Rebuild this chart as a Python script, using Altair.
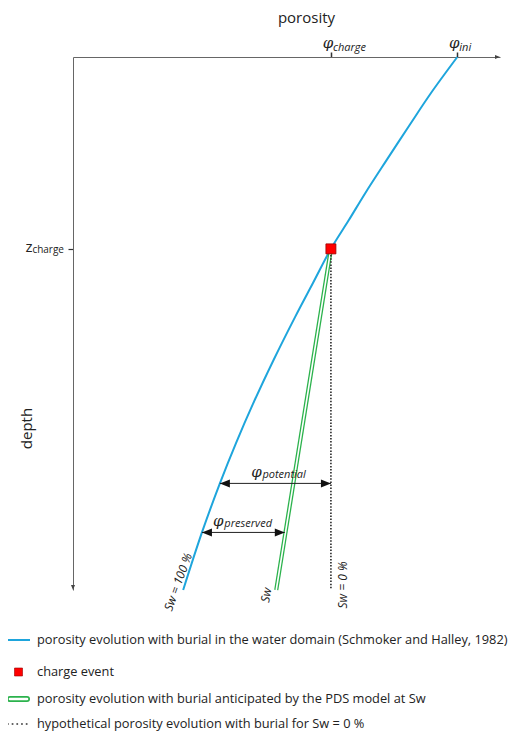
import altair as alt
import pandas as pd

# ---------------- data ----------------
# porosity evolution in the water domain (Schmoker & Halley, 1982)
depth_water = [0.0, 0.34, 0.64, 0.97, 1.28, 1.53, 1.80, 2.12, 2.44, 2.84, 3.25, 3.62, 4.00, 4.46, 5.00]
poro_water = [0.450, 0.419, 0.394, 0.367, 0.342, 0.323, 0.302, 0.281, 0.260, 0.235, 0.211, 0.191, 0.172, 0.151, 0.129]

phi_ini = 0.45
phi_charge = 0.302
z_charge = 1.80
phi_axis_end = 0.50
z_axis_end = 5.00

# PDS model at Sw
depth_pds = [1.80, 5.00]
poro_pds = [0.302, 0.238]

# hypothetical Sw = 0 %
depth_dry = [1.80, 5.00]
poro_dry = [0.302, 0.302]

# double arrows
arrow_names = ["potential", "preserved"]
arrow_depth = [4.00, 4.46]
arrow_left = [0.172, 0.151]
arrow_right = [0.302, 0.248]

top_tick_values = [phi_charge, phi_ini]
top_tick_subs = ["charge", "ini"]

end_labels = ["Sw = 100 %", "Sw", "Sw = 0 %"]
end_label_phi = [0.129, 0.238, 0.302]
end_label_z = [5.00, 5.00, 5.00]

legend_labels = [
    "porosity evolution with burial in the water domain (Schmoker and Halley, 1982)",
    "charge event",
    "porosity evolution with burial anticipated by the PDS model at Sw",
    "hypothetical porosity evolution with burial for Sw = 0 %",
]

# ---------------- styling ----------------
FONT = "Open Sans"
GREEK = "DejaVu Serif"
TXT = "#222222"
BLUE = "#1ea5dc"
GREEN = "#2bb24c"
RED = "#ff0000"

xs = alt.Scale(domain=[0, phi_axis_end], nice=False, zero=False)
ys = alt.Scale(domain=[0, z_axis_end], reverse=True, nice=False, zero=False)

x_axis = alt.Axis(
    orient="top", values=top_tick_values, labels=False, ticks=True, tickSize=5,
    tickColor="#333333", tickWidth=1.5, domainColor="#666666", domainWidth=1,
    grid=False, titleX=233, titleY=-40, titleAlign="center", titleBaseline="middle",
    titleFont=FONT, titleFontSize=15, titleFontWeight="normal", titleColor=TXT,
)
y_axis = alt.Axis(
    orient="left", values=[z_charge], labels=False, ticks=True, tickSize=5,
    tickColor="#333333", tickWidth=1.2, domainColor="#666666", domainWidth=1,
    grid=False, titleX=-47, titleY=371, titleAngle=270, titleAlign="center",
    titleBaseline="middle", titleFont=FONT, titleFontSize=15,
    titleFontWeight="normal", titleColor=TXT,
)


def X(f="phi"):
    return alt.X(f"{f}:Q", scale=xs, axis=x_axis, title="porosity")


def Y(f="z"):
    return alt.Y(f"{f}:Q", scale=ys, axis=y_axis, title="depth")


water = pd.DataFrame({"phi": poro_water, "z": depth_water})
pds = pd.DataFrame({"phi": poro_pds, "z": depth_pds})
dry = pd.DataFrame({"phi": poro_dry, "z": depth_dry})
charge = pd.DataFrame({"phi": [phi_charge], "z": [z_charge]})
arrows = pd.DataFrame({"name": arrow_names, "z": arrow_depth,
                       "phi": arrow_left, "phi2": arrow_right})
arrows["mid"] = (arrows["phi"] + arrows["phi2"]) / 2
ticks_top = pd.DataFrame({"phi": top_tick_values, "sub": top_tick_subs})
ends = pd.DataFrame({"label": end_labels, "phi": end_label_phi, "z": end_label_z})
axis_ends = pd.DataFrame({"phi": [phi_axis_end, 0.0], "z": [0.0, z_axis_end],
                          "dir": ["right", "down"]})

layers = []

# blue water-domain curve
layers.append(alt.Chart(water).mark_line(color=BLUE, strokeWidth=2, interpolate="catmull-rom")
              .encode(x=X(), y=Y(), order="z:Q"))

# green double line (PDS model)
layers.append(alt.Chart(pds).mark_line(color=GREEN, strokeWidth=4.2)
              .encode(x=X(), y=Y()))
layers.append(alt.Chart(pds).mark_line(color="white", strokeWidth=1.6)
              .encode(x=X(), y=Y()))

# dotted line Sw = 0 %
layers.append(alt.Chart(dry).mark_line(color="#333333", strokeWidth=1.7, strokeDash=[1.5, 1.6])
              .encode(x=X(), y=Y()))

# double arrows
layers.append(alt.Chart(arrows).mark_rule(color="#222222", strokeWidth=1)
              .encode(x=X(), x2="phi2:Q", y=Y()))
layers.append(alt.Chart(arrows).mark_point(shape="M0,0L2,-0.8L2,0.8Z", size=100, filled=True,
                                           color="#111111", opacity=1)
              .encode(x=X(), y=Y()))
layers.append(alt.Chart(arrows).mark_point(shape="M0,0L-2,-0.8L-2,0.8Z", size=100, filled=True,
                                           color="#111111", opacity=1)
              .encode(x=X("phi2"), y=Y()))

# arrow labels: phi + subscript
for name, dphi, dsub in [("potential", -19, -13), ("preserved", -25, -19)]:
    sub = arrows[arrows["name"] == name]
    layers.append(alt.Chart(sub).mark_text(text="φ", font=GREEK, fontStyle="italic", fontSize=15,
                                           align="center", baseline="alphabetic", dx=dphi, dy=-6,
                                           color=TXT)
                  .encode(x=X("mid"), y=Y()))
    layers.append(alt.Chart(sub).mark_text(font=FONT, fontStyle="italic", fontSize=11,
                                           align="left", baseline="alphabetic", dx=dsub, dy=-5,
                                           color=TXT)
                  .encode(x=X("mid"), y=Y(), text="name:N"))

# axis arrowheads
layers.append(alt.Chart(axis_ends[axis_ends["dir"] == "right"])
              .mark_point(shape="M0,0L-2,-0.8L-2,0.8Z", size=25, filled=True, color="#444444", opacity=1)
              .encode(x=X(), y=Y()))
layers.append(alt.Chart(axis_ends[axis_ends["dir"] == "down"])
              .mark_point(shape="M0,0L-0.8,-2L0.8,-2Z", size=25, filled=True, color="#444444", opacity=1)
              .encode(x=X(), y=Y()))

# top tick labels (phi_charge, phi_ini)
layers.append(alt.Chart(ticks_top).mark_text(text="φ", font=GREEK, fontStyle="italic", fontSize=15,
                                             align="center", baseline="alphabetic", dx=-3, color=TXT)
              .encode(x=X(), y=alt.value(-9)))
layers.append(alt.Chart(ticks_top).mark_text(font=FONT, fontStyle="italic", fontSize=11,
                                             align="left", baseline="alphabetic", dx=2, color=TXT)
              .encode(x=X(), y=alt.value(-6), text="sub:N"))

# z_charge label
layers.append(alt.Chart(charge).mark_text(text="z", font=FONT, fontSize=15, align="right",
                                          baseline="alphabetic", dy=3, color=TXT)
              .encode(x=alt.value(-40.5), y=Y()))
layers.append(alt.Chart(charge).mark_text(text="charge", font=FONT, fontSize=10, align="right",
                                          baseline="alphabetic", dy=4, color=TXT)
              .encode(x=alt.value(-9), y=Y()))

# end labels
for lab, ang, xo, yo in [("Sw = 100 %", 290, -5, -8), ("Sw", 280, -10, 5), ("Sw = 0 %", 270, 12, -5)]:
    layers.append(alt.Chart(ends[ends["label"] == lab])
                  .mark_text(font=FONT, fontStyle="italic", fontSize=12, angle=ang, align="center",
                             baseline="middle", xOffset=xo, yOffset=yo, color=TXT)
                  .encode(x=X(), y=Y(), text="label:N"))

# charge event
layers.append(alt.Chart(charge).mark_point(shape="square", size=100, filled=True, fill=RED,
                                           stroke="#990000", strokeWidth=0.8, opacity=1)
              .encode(x=X(), y=Y()))

# ---------------- legend ----------------
row_y = [583, 615, 642, 667]
sym_x0, sym_x1, txt_x = -66, -43, -36
one = pd.DataFrame({"k": [0]})

layers.append(alt.Chart(one).mark_rule(color=BLUE, strokeWidth=2)
              .encode(x=alt.value(sym_x0), x2=alt.value(sym_x1), y=alt.value(row_y[0])))
layers.append(alt.Chart(one).mark_point(shape="square", size=64, filled=True, fill=RED,
                                        stroke="#990000", strokeWidth=0.6, opacity=1)
              .encode(x=alt.value((sym_x0 + sym_x1) / 2), y=alt.value(row_y[1])))
layers.append(alt.Chart(one).mark_rule(color=GREEN, strokeWidth=6, strokeCap="round")
              .encode(x=alt.value(sym_x0 + 3), x2=alt.value(sym_x1 - 3), y=alt.value(row_y[2])))
layers.append(alt.Chart(one).mark_rule(color="white", strokeWidth=2.6, strokeCap="round")
              .encode(x=alt.value(sym_x0 + 3), x2=alt.value(sym_x1 - 3), y=alt.value(row_y[2])))
layers.append(alt.Chart(one).mark_rule(color="#333333", strokeWidth=1.7, strokeDash=[1.7, 3])
              .encode(x=alt.value(sym_x0), x2=alt.value(sym_x1), y=alt.value(row_y[3])))

for i, lab in enumerate(legend_labels):
    layers.append(alt.Chart(pd.DataFrame({"label": [lab]}))
                  .mark_text(font=FONT, fontSize=12.8, align="left", baseline="middle", color=TXT)
                  .encode(x=alt.value(txt_x), y=alt.value(row_y[i]), text="label:N"))

chart = (
    alt.layer(*layers)
    .properties(width=427, height=533,
                padding={"left": 65, "top": 49, "right": 19, "bottom": 144},
                autosize=alt.AutoSizeParams(type="none"))
    .configure_view(stroke=None)
)

chart.save("out.html", embed_options={"renderer": "svg", "actions": False})
